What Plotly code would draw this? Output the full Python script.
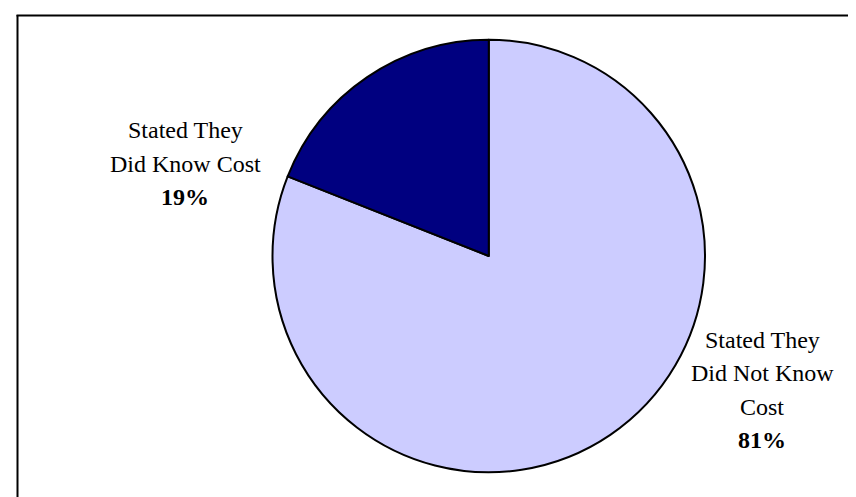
import plotly.graph_objects as go

W, H = 856, 497

labels = ["Stated They<br>Did Not Know<br>Cost", "Stated They<br>Did Know Cost"]
values = [81, 19]
colors = ["#CCCCFF", "#000080"]
label_pos = [(754, 382), (177, 155.5)]  # pixel centres of the label blocks
LINE_SP = 33.5  # pixel spacing between label lines

fig = go.Figure()
fig.add_trace(go.Pie(
    labels=labels,
    values=values,
    sort=False,
    direction="clockwise",
    rotation=0,
    marker=dict(colors=colors, line=dict(color="black", width=2)),
    textinfo="none",
    hoverinfo="label+percent",
    showlegend=False,
    domain=dict(x=[264.5 / W, 697 / W], y=[1 - 465 / H, 1 - 31 / H]),
))

total = sum(values)
font = dict(family="Liberation Serif, Times New Roman, serif", size=24, color="black")
for lab, v, (px, py) in zip(labels, values, label_pos):
    lines = lab.split("<br>") + [f"<b>{round(100 * v / total)}%</b>"]
    n = len(lines)
    for i, ln in enumerate(lines):
        yy = py + (i - (n - 1) / 2) * LINE_SP
        fig.add_annotation(
            x=px / W, y=1 - yy / H, xref="paper", yref="paper",
            text=ln, showarrow=False, xanchor="center", yanchor="middle",
            font=font, align="center",
        )

# cropped frame: top and left edges only
fig.add_shape(type="line", xref="paper", yref="paper",
              x0=8.5 / W, x1=1, y0=1 - 7.5 / H, y1=1 - 7.5 / H,
              line=dict(color="black", width=2))
fig.add_shape(type="line", xref="paper", yref="paper",
              x0=9.5 / W, x1=9.5 / W, y0=0, y1=1 - 7 / H,
              line=dict(color="black", width=2))

fig.update_layout(
    width=W, height=H,
    margin=dict(l=0, r=0, t=0, b=0),
    paper_bgcolor="white",
    plot_bgcolor="white",
)

fig.write_html("out.html")
